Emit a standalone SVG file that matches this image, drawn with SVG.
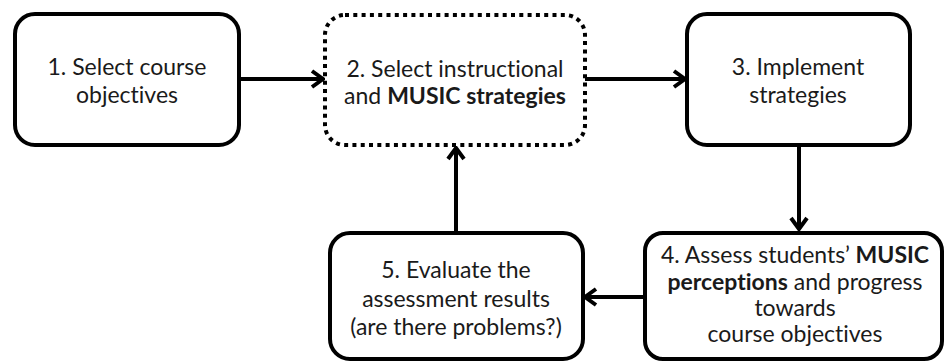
<svg xmlns="http://www.w3.org/2000/svg" width="946" height="362" viewBox="0 0 946 362">
  <style>
    .box { fill: #ffffff; stroke: #000000; stroke-width: 4; }
    .dotted { fill: #ffffff; stroke: #000000; stroke-width: 4; stroke-dasharray: 4 4.3; stroke-linecap: butt; }
    .label { font-family: Lato, "Liberation Sans", sans-serif; font-size: 23px; fill: #1a1a1a; text-anchor: middle; font-variant-ligatures: none; }
    .label tspan.b { font-weight: bold; }
    .wire { fill: none; stroke: #000000; stroke-width: 4; }
  </style>
  <defs>
    <marker id="chevron" markerUnits="userSpaceOnUse" viewBox="-14 -10 16 20" refX="0" refY="0" markerWidth="16" markerHeight="20" orient="auto">
      <path d="M -11 -8 L 0 0 L -11 8" fill="none" stroke="#000000" stroke-width="4" stroke-linejoin="miter"/>
    </marker>
  </defs>
  <rect x="0" y="0" width="946" height="362" fill="#ffffff"/>

  <g id="connectors">
    <line class="wire" x1="239" y1="79" x2="323" y2="79" marker-end="url(#chevron)"/>
    <line class="wire" x1="585" y1="79" x2="685" y2="79" marker-end="url(#chevron)"/>
    <line class="wire" x1="799" y1="145" x2="799" y2="229" marker-end="url(#chevron)"/>
    <line class="wire" x1="645" y1="297" x2="585" y2="297" marker-end="url(#chevron)"/>
    <line class="wire" x1="456" y1="232" x2="456" y2="148" marker-end="url(#chevron)"/>
  </g>

  <g id="node1">
    <rect class="box" x="15" y="14" width="224" height="131" rx="20" ry="20"/>
    <text class="label" x="127" y="75">1. Select course</text>
    <text class="label" x="127" y="103">objectives</text>
  </g>

  <g id="node2">
    <rect class="dotted" x="325" y="15" width="260" height="130" rx="20" ry="20"/>
    <text class="label" x="455" y="77">2. Select instructional</text>
    <text class="label" x="455" y="104">and <tspan class="b">MUSIC strategies</tspan></text>
  </g>

  <g id="node3">
    <rect class="box" x="687" y="14" width="223" height="131" rx="20" ry="20"/>
    <text class="label" x="798" y="75">3. Implement</text>
    <text class="label" x="798" y="103">strategies</text>
  </g>

  <g id="node4">
    <rect class="box" x="645" y="233" width="297" height="126" rx="18" ry="18"/>
    <text class="label" x="795" y="263">4. Assess students’ <tspan class="b">MUSIC</tspan></text>
    <text class="label" x="795" y="290"><tspan class="b">perceptions</tspan> and progress</text>
    <text class="label" x="795" y="316">towards</text>
    <text class="label" x="795" y="342">course objectives</text>
  </g>

  <g id="node5">
    <rect class="box" x="330" y="233" width="253" height="126" rx="20" ry="20"/>
    <text class="label" x="456" y="278">5. Evaluate the</text>
    <text class="label" x="456" y="307">assessment results</text>
    <text class="label" x="456" y="335">(are there problems?)</text>
  </g>
</svg>
